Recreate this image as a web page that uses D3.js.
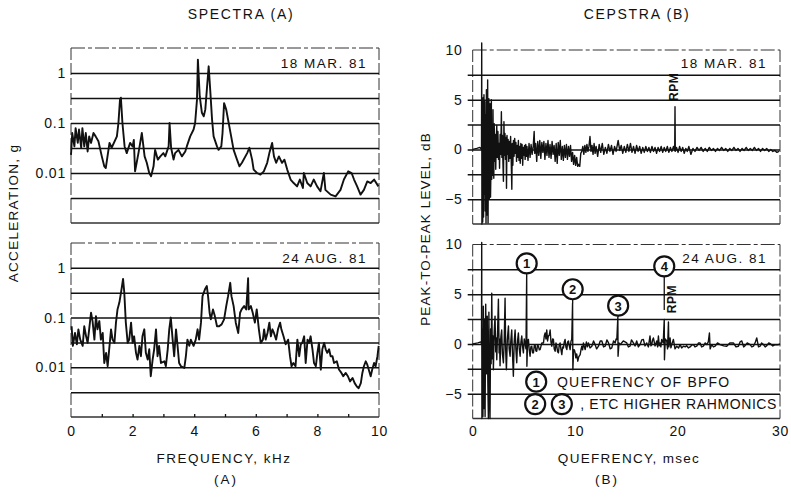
<!DOCTYPE html>
<html>
<head>
<meta charset="utf-8">
<script src="https://cdn.jsdelivr.net/npm/d3@7"></script>
<style>
  html, body { margin: 0; padding: 0; background: #fff; }
  svg { display: block; font-family: "Liberation Sans", Arial, sans-serif; }
</style>
</head>
<body>
<svg id="chart" width="791" height="498"></svg>
<script>
// ---- Spectra: [frequency kHz, acceleration g] ----
const specMar = [
  [0,0.023],[0.04,0.063],[0.11,0.034],[0.15,0.079],[0.22,0.040],[0.26,0.074],[0.33,0.032],[0.37,0.079],
  [0.43,0.034],[0.48,0.063],[0.54,0.027],[0.59,0.054],[0.65,0.040],[0.73,0.063],[0.80,0.054],[0.89,0.043],
  [1.0,0.0215],[1.08,0.0136],[1.13,0.0126],[1.25,0.040],[1.32,0.032],[1.49,0.054],[1.54,0.1],[1.59,0.29],
  [1.62,0.32],[1.67,0.1],[1.74,0.034],[1.81,0.025],[1.92,0.040],[2.0,0.034],[2.04,0.046],[2.08,0.0108],
  [2.19,0.025],[2.30,0.063],[2.39,0.0215],[2.46,0.016],[2.54,0.01],[2.60,0.0086],[2.68,0.0136],[2.73,0.029],
  [2.82,0.0185],[2.90,0.0215],[3.0,0.025],[3.06,0.0215],[3.17,0.034],[3.20,0.1],[3.25,0.032],[3.33,0.0185],
  [3.38,0.025],[3.49,0.029],[3.60,0.0215],[3.71,0.027],[3.76,0.034],[3.87,0.054],[3.98,0.074],[4.03,0.1],
  [4.09,0.29],[4.12,1.85],[4.18,0.34],[4.25,0.16],[4.31,0.136],[4.36,0.185],[4.41,0.46],[4.47,1.36],
  [4.52,0.46],[4.58,0.117],[4.63,0.054],[4.74,0.034],[4.79,0.029],[4.88,0.034],[4.92,0.063],[4.97,0.25],
  [5.04,0.185],[5.12,0.1],[5.20,0.054],[5.28,0.029],[5.39,0.0185],[5.47,0.0136],[5.55,0.016],[5.72,0.025],
  [5.79,0.032],[5.88,0.0185],[5.93,0.0117],[6.04,0.01],[6.15,0.0093],[6.26,0.0108],[6.37,0.016],[6.44,0.025],
  [6.53,0.040],[6.59,0.0215],[6.66,0.016],[6.75,0.0215],[6.85,0.016],[6.93,0.0185],[7.02,0.0117],[7.13,0.0074],
  [7.23,0.0063],[7.34,0.0054],[7.43,0.0074],[7.53,0.005],[7.56,0.01],[7.67,0.0063],[7.78,0.0054],[7.88,0.0074],
  [7.99,0.0054],[8.10,0.0043],[8.21,0.01],[8.26,0.0046],[8.43,0.0037],[8.59,0.0034],[8.75,0.0046],[8.86,0.0074],
  [9.0,0.0108],[9.11,0.01],[9.19,0.0074],[9.29,0.0054],[9.40,0.0037],[9.51,0.0046],[9.62,0.0068],[9.73,0.0063],
  [9.84,0.0074],[9.98,0.0054]
];
const specAug = [
  [0.02,0.067],[0.06,0.027],[0.13,0.049],[0.19,0.029],[0.24,0.058],[0.30,0.036],[0.38,0.027],[0.43,0.067],
  [0.49,0.042],[0.54,0.031],[0.59,0.058],[0.65,0.125],[0.70,0.085],[0.76,0.036],[0.81,0.107],[0.86,0.058],
  [0.92,0.085],[0.97,0.036],[1.03,0.049],[1.08,0.0122],[1.14,0.0195],[1.19,0.0105],[1.24,0.023],[1.30,0.058],
  [1.35,0.036],[1.41,0.031],[1.46,0.079],[1.51,0.146],[1.57,0.20],[1.64,0.37],[1.69,0.6],[1.73,0.32],
  [1.78,0.079],[1.84,0.031],[1.89,0.036],[1.95,0.079],[2.0,0.031],[2.05,0.042],[2.11,0.0195],[2.16,0.0143],
  [2.22,0.027],[2.27,0.0167],[2.32,0.042],[2.38,0.058],[2.43,0.0195],[2.49,0.0143],[2.54,0.023],[2.59,0.0066],
  [2.65,0.0143],[2.70,0.023],[2.76,0.058],[2.81,0.0167],[2.86,0.027],[2.92,0.0122],[3.03,0.0132],[3.08,0.0105],
  [3.14,0.023],[3.19,0.058],[3.24,0.1],[3.30,0.036],[3.35,0.0167],[3.41,0.058],[3.46,0.027],[3.51,0.0122],
  [3.57,0.0105],[3.68,0.0097],[3.73,0.0167],[3.78,0.036],[3.84,0.027],[3.89,0.036],[3.98,0.027],[4.05,0.036],
  [4.11,0.058],[4.16,0.036],[4.22,0.079],[4.27,0.27],[4.35,0.37],[4.41,0.43],[4.45,0.27],[4.50,0.125],
  [4.54,0.092],[4.61,0.146],[4.67,0.107],[4.74,0.067],[4.81,0.067],[4.89,0.073],[4.97,0.092],[5.04,0.17],
  [5.10,0.27],[5.17,0.50],[5.21,0.27],[5.28,0.17],[5.35,0.079],[5.43,0.049],[5.49,0.125],[5.54,0.146],
  [5.62,0.17],[5.69,0.146],[5.73,0.37],[5.75,0.62],[5.77,0.146],[5.84,0.17],[5.90,0.125],[5.97,0.079],
  [6.03,0.146],[6.10,0.058],[6.16,0.031],[6.23,0.036],[6.27,0.058],[6.32,0.036],[6.38,0.049],[6.44,0.079],
  [6.49,0.042],[6.54,0.058],[6.59,0.049],[6.66,0.036],[6.72,0.058],[6.79,0.079],[6.83,0.058],[6.90,0.042],
  [6.97,0.029],[7.05,0.036],[7.11,0.0167],[7.16,0.0105],[7.22,0.0122],[7.29,0.0105],[7.35,0.036],[7.41,0.0167],
  [7.46,0.029],[7.51,0.031],[7.57,0.042],[7.62,0.0122],[7.68,0.036],[7.73,0.031],[7.78,0.042],[7.84,0.023],
  [7.89,0.0122],[7.95,0.0105],[8.0,0.0195],[8.05,0.031],[8.11,0.009],[8.16,0.023],[8.22,0.031],[8.27,0.023],
  [8.32,0.0195],[8.38,0.023],[8.43,0.0167],[8.49,0.0167],[8.54,0.0122],[8.63,0.0132],[8.70,0.009],[8.78,0.0077],
  [8.84,0.0066],[8.92,0.0077],[8.99,0.0066],[9.06,0.0052],[9.14,0.0061],[9.21,0.0048],[9.28,0.0041],[9.34,0.0038],
  [9.41,0.0048],[9.46,0.0077],[9.51,0.0105],[9.57,0.0132],[9.62,0.0113],[9.68,0.0084],[9.73,0.0066],[9.78,0.0090],
  [9.84,0.0122],[9.89,0.0105],[9.95,0.0167],[9.99,0.027]
];

// ---- Cepstra: [quefrency msec, peak-to-peak level dB] ----
const cepMar = [
  [0,0],[0.4,0.1],[0.7,0.2],[0.86,0],[0.88,10.7],[0.9,-7.5],[0.94,2.5],[0.98,-7.3],[1.02,5.2],[1.06,-6.8],
  [1.10,5.5],[1.14,-4.5],[1.18,4.8],[1.22,-6.2],[1.26,3.5],[1.30,-7.4],[1.34,6.0],[1.38,-3.5],[1.42,-6.6],
  [1.46,7.0],[1.50,-7.4],[1.54,2.0],[1.58,5.1],[1.62,-5.0],[1.66,1.0],[1.70,4.6],[1.74,-4.8],[1.78,-2.0],
  [1.82,5.0],[1.86,-3.0],[1.90,2.5],[1.94,-2.6],[1.98,4.0],[2.02,-1.5],[2.06,-2.9],[2.10,2.6],[2.15,-1.2],
  [2.20,1.5],[2.25,-2.0],[2.30,1.0],[2.35,2.4],[2.40,-0.8],[2.46,1.8],[2.52,-1.0],[2.58,0.6],[2.62,-1.9],
  [2.68,1.5],[2.74,-0.5],[2.80,3.8],[2.85,-0.8],[2.90,1.4],[2.95,-1.2],[3.00,-3.2],[3.05,2.8],[3.10,-0.6],
  [3.15,1.6],[3.20,-1.0],[3.26,1.2],[3.30,-3.9],[3.35,1.4],[3.40,-0.5],[3.46,1.0],[3.52,-1.2],[3.58,0.8],
  [3.64,-0.9],[3.70,1.3],[3.76,-1.0],[3.82,-4.0],[3.86,0.6],[3.92,-1.6],[3.98,0.9],[4.04,-0.7],[4.10,1.1],
  [4.16,-0.4],[4.22,0.7],[4.28,-1.2],[4.34,0.4],[4.40,-0.8],[4.46,0.9],[4.52,-1.1],[4.58,0.3],[4.64,-1.4],
  [4.70,0.6],[4.76,-0.9],[4.82,0.5],[4.88,-1.6],[4.94,0.2],[5.00,-0.6],[5.06,0.4],[5.12,-1.0],[5.18,0.5],
  [5.24,-0.7],[5.30,0.3],[5.40,-1.1],[5.50,0.6],[5.60,-0.8],[5.70,0.5],[5.80,-0.5],[5.90,0.2],[6.00,1.8],
  [6.06,-0.4],[6.15,0.6],[6.25,-1.2],[6.35,0.8],[6.45,-0.6],[6.55,0.9],[6.65,-0.9],[6.75,0.7],[6.85,-0.3],
  [6.95,0.8],[7.05,-1.0],[7.15,0.6],[7.25,-0.6],[7.35,0.9],[7.45,-0.8],[7.55,0.5],[7.65,-0.9],[7.75,0.8],
  [7.85,-0.5],[7.95,0.4],[8.05,-1.2],[8.15,0.6],[8.25,-1.4],[8.35,0.7],[8.45,-0.6],[8.55,0.9],[8.65,-1.0],
  [8.75,0.3],[8.85,-1.1],[8.95,0.4],[9.05,-0.8],[9.15,0.5],[9.25,-1.0],[9.35,0.3],[9.45,-0.7],[9.55,0.4],
  [9.65,-1.2],[9.75,-0.3],[9.85,-1.5],[9.95,-0.6],[10.05,-1.6],[10.15,-0.8],[10.25,-1.7],[10.35,-1.5],
  [10.45,-1.7],[10.55,-0.4],[10.65,-0.2],[10.75,0.3],[10.85,-0.5],[10.95,0.4],[11.05,-0.3],[11.15,0.5],
  [11.25,-0.2],[11.35,0.3],[11.45,1.3],[11.55,-0.2],[11.65,0.4],[11.75,-0.5],[11.85,0.6],[11.95,-0.4],
  [12.05,0.3],[12.2,-0.7],[12.35,0.5],[12.5,-0.3],[12.65,0.6],[12.8,-0.5],[12.95,0.2],[13.1,-0.4],[13.25,0.5],
  [13.4,-0.2],[13.55,0.4],[13.7,-0.5],[13.85,0.3],[14.0,-0.2],[14.2,0.9],[14.35,-0.1],[14.5,0.4],[14.65,-0.4],
  [14.8,0.3],[14.95,-0.3],[15.1,0.5],[15.25,-0.2],[15.4,0.6],[15.55,-0.3],[15.7,0.3],[15.85,-0.4],[16.0,0.4],
  [16.15,-0.2],[16.3,0.3],[16.45,-0.4],[16.6,0.2],[16.75,-0.3],[16.9,0.3],[17.05,-0.2],[17.2,0.2],[17.35,-0.3],
  [17.5,0.3],[17.65,-0.2],[17.8,0.2],[17.95,-0.4],[18.1,0.2],[18.25,-0.2],[18.4,0.3],[18.55,-0.3],[18.7,0.2],
  [18.85,-0.2],[19.0,0.3],[19.15,-0.3],[19.3,0.2],[19.45,-0.2],[19.6,0.3],[19.72,-0.1],[19.75,4.3],[19.78,-0.2],
  [19.9,0.2],[20.05,-0.3],[20.2,0.3],[20.35,-0.2],[20.5,0.2],[20.65,-0.4],[20.8,0.1],[20.95,-0.2],[21.1,0.3],
  [21.3,-0.5],[21.5,0.1],[21.7,-0.2],[21.9,0.2],[22.1,-0.1],[22.3,0.2],[22.5,-0.2],[22.7,0.1],[22.9,-0.2],
  [23.1,0.2],[23.3,-0.1],[23.5,0.1],[23.7,-0.2],[23.9,0.1],[24.1,-0.1],[24.3,0.2],[24.5,-0.1],[24.7,0.1],
  [24.9,-0.2],[25.1,0.1],[25.3,-0.1],[25.5,0.2],[25.7,-0.1],[25.9,0.1],[26.1,-0.2],[26.3,0.1],[26.5,-0.1],
  [26.7,0.2],[26.9,-0.1],[27.1,0.1],[27.3,-0.1],[27.5,0.2],[27.7,-0.1],[27.9,0.1],[28.1,-0.2],[28.3,0.1],
  [28.5,-0.1],[28.7,0.1],[28.9,-0.2],[29.1,0.0],[29.3,-0.2],[29.5,-0.1],[29.7,-0.3],[29.9,-0.2]
];
const cepAug = [
  [0,0],[0.5,0.1],[0.8,0.2],[0.86,0],[0.88,10.2],[0.9,-7.5],[0.95,1.5],[1.0,-7.3],[1.04,3.8],[1.1,-6.5],
  [1.15,2.5],[1.21,-7.3],[1.27,4.0],[1.35,-3.0],[1.42,2.8],[1.48,-4.0],[1.53,-7.5],[1.58,3.2],[1.64,-5.0],
  [1.69,-7.5],[1.75,1.5],[1.80,-2.0],[1.86,5.1],[1.92,-1.5],[1.97,0.8],[2.02,-2.6],[2.10,1.2],[2.18,2.8],
  [2.25,-0.8],[2.30,0.6],[2.35,-1.6],[2.42,0.9],[2.51,4.5],[2.58,-0.9],[2.62,0.5],[2.67,-2.2],[2.75,0.7],
  [2.83,1.4],[2.90,-1.0],[3.0,-1.9],[3.08,0.5],[3.16,4.6],[3.22,-0.6],[3.29,-2.6],[3.38,0.4],[3.49,1.8],
  [3.56,-0.5],[3.65,-1.24],[3.72,0.3],[3.81,1.4],[3.88,-0.8],[3.97,-3.25],[4.05,0.2],[4.14,1.4],[4.22,-0.6],
  [4.30,-1.9],[4.38,0.3],[4.46,1.1],[4.54,-0.4],[4.63,-1.24],[4.71,0.2],[4.79,0.8],[4.87,-0.3],[4.95,-0.9],
  [5.03,0.5],[5.11,0.1],[5.20,-0.5],[5.27,6.8],[5.29,-2.25],[5.36,0.3],[5.44,0.45],[5.52,-0.6],[5.60,-1.24],
  [5.68,-0.3],[5.77,-0.23],[5.85,-0.9],[5.93,-0.9],[6.01,-0.2],[6.09,-0.07],[6.17,-0.7],[6.25,-0.74],
  [6.33,-0.1],[6.42,-0.23],[6.50,-0.6],[6.58,-0.57],[6.75,0.1],[6.91,0.1],[6.99,0.8],[7.07,1.1],[7.15,0.5],
  [7.23,1.4],[7.31,0.3],[7.39,0.8],[7.48,0.9],[7.56,1.4],[7.64,0.2],[7.72,-0.23],[7.80,0.5],[7.88,0.45],
  [7.96,-0.5],[8.05,-0.74],[8.13,0.1],[8.21,-0.23],[8.29,-0.8],[8.37,-0.9],[8.45,-0.1],[8.53,0.1],[8.62,-0.6],
  [8.70,-1.07],[8.78,-0.3],[8.86,-0.4],[8.94,0.2],[9.02,0.45],[9.10,-0.3],[9.19,-0.57],[9.27,0.2],[9.35,0.3],
  [9.43,-0.2],[9.51,-0.57],[9.60,0.3],[9.67,0.45],[9.75,4.1],[9.78,-2.6],[9.85,-0.57],[9.93,-0.6],[10.0,-0.9],
  [10.07,-1.4],[10.15,-1.0],[10.26,-1.74],[10.35,-1.3],[10.49,-1.07],[10.57,-0.6],[10.65,-0.23],[10.73,-0.6],
  [10.81,0.1],[10.90,-0.3],[10.98,-0.57],[11.1,0.2],[11.2,-0.3],[11.30,0.1],[11.45,-0.4],[11.63,-0.23],
  [11.8,0.3],[11.95,-0.07],[12.1,-0.5],[12.28,-0.23],[12.45,0.3],[12.61,0.3],[12.77,-0.3],[12.93,-0.23],
  [13.1,0.4],[13.26,0.1],[13.42,-0.5],[13.58,-0.4],[13.75,0.3],[13.91,0.1],[14.0,0.5],[14.07,0.45],[14.17,2.7],
  [14.19,-1.24],[14.28,0.1],[14.40,-0.07],[14.7,0.3],[15.04,0.1],[15.2,-0.3],[15.36,-0.23],[15.5,0.4],
  [15.69,0.1],[15.85,-0.2],[16.01,0.3],[16.17,-0.3],[16.34,-0.07],[16.5,0.4],[16.66,0.45],[16.82,-0.2],
  [16.99,0.1],[17.15,-0.3],[17.31,0.8],[17.40,-0.2],[17.48,-0.07],[17.56,0.4],[17.64,0.6],[17.8,-0.2],
  [17.97,0.3],[18.05,-0.3],[18.13,0.8],[18.21,-0.2],[18.29,0.1],[18.37,-0.3],[18.45,0.45],[18.6,0.1],
  [18.70,2.45],[18.72,-1.6],[18.8,0.5],[18.94,0.3],[19.02,-0.5],[19.11,2.2],[19.15,-0.3],[19.27,0.6],
  [19.35,-0.4],[19.43,-0.07],[19.59,0.45],[19.75,-0.5],[19.92,-0.23],[20.1,-0.4],[20.25,-0.07],[20.4,-0.4],
  [20.57,-0.23],[20.75,-0.3],[20.89,-0.17],[21.05,-0.4],[21.22,-0.3],[21.4,-0.1],[21.55,-0.07],[21.7,-0.3],
  [21.87,-0.23],[22.05,0.1],[22.20,0.1],[22.35,-0.3],[22.52,-0.23],[22.7,0.1],[22.85,-0.07],[23.0,0.2],
  [23.11,1.1],[23.18,-0.5],[23.33,-0.07],[23.5,-0.3],[23.66,-0.23],[23.9,0.1],[24.15,-0.07],[24.5,-0.2],
  [24.80,-0.23],[25.1,0.1],[25.45,0.1],[25.7,-0.3],[25.94,-0.23],[26.1,0.2],[26.27,0.3],[26.45,-0.3],
  [26.59,-0.17],[26.8,0.1],[27.08,-0.07],[27.25,-0.3],[27.41,-0.23],[27.6,0.2],[27.73,0.6],[27.9,-0.3],
  [28.06,-0.23],[28.2,0.1],[28.39,-0.07],[28.55,-0.3],[28.71,-0.17],[28.9,0.1],[29.04,0.03],[29.3,-0.2],
  [29.53,-0.07],[29.8,-0.1],[30.0,0.0]
];

// ---- Axis ticks, gridlines and labels ----
const freqTicks = [0, 2, 4, 6, 8, 10];
const freqMinorTicks = [1, 2, 3, 4, 5, 6, 7, 8, 9];
const quefTicks = [0, 10, 20, 30];
const accelTicks = [1, 0.1, 0.01];
const accelGrid = [1, 0.316, 0.1, 0.0316, 0.01, 0.00316];
const levelTicks = [10, 5, 0, -5];
const levelGrid = [7.5, 5, 2.5, 0, -2.5, -5];
const dateLabels = ["18 MAR. 81", "24 AUG. 81"];

// Rahmonic markers: number, quefrency, circle level, level where the leader ends
const rahmonics = [
  { n: "1", q: 5.27, c: 8.1, end: 6.8 },
  { n: "2", q: 9.76, c: 5.5, end: 4.1 },
  { n: "3", q: 14.2, c: 3.85, end: 2.7 },
  { n: "4", q: 18.7, c: 7.8, end: 3.4 }
];

const ink = "#111";
const svg = d3.select("#chart");

// scales
const xFreq = d3.scaleLinear().domain([0, 10]).range([71, 379]);
const xQue = d3.scaleLinear().domain([0, 30]).range([472.7, 780]);
const accDomain = [0.001, Math.sqrt(10)];
const yAccTop = d3.scaleLog().domain(accDomain).range([223, 48]);
const yAccBot = d3.scaleLog().domain(accDomain).range([417, 243]);
const yLevTop = d3.scaleLinear().domain([-7.5, 10]).range([224, 50]);
const yLevBot = d3.scaleLinear().domain([-7.5, 10]).range([418.5, 244.5]);

function styleAxisText(g, size) {
  g.selectAll("text")
    .attr("font-family", "'Liberation Sans', Arial, sans-serif")
    .attr("font-size", size)
    .attr("letter-spacing", 0.8)
    .attr("fill", ink);
  g.attr("font-family", null).attr("font-size", null);
}

function panel(x, y, grid, tickVals, tickFmt, gridOverhang, labelPad) {
  const [x0, x1] = x.range();
  const [yb, yt] = y.range();

  // frame: dashed top and sides, solid bottom
  const frame = svg.append("g").attr("fill", "none").attr("stroke", "#333").attr("stroke-width", 1);
  frame.append("line").attr("x1", x0).attr("x2", x1).attr("y1", yt).attr("y2", yt)
    .attr("stroke-dasharray", "14,3,4,3");
  frame.append("line").attr("x1", x0).attr("x2", x0).attr("y1", yt).attr("y2", yb)
    .attr("stroke-dasharray", "12,3");
  frame.append("line").attr("x1", x1).attr("x2", x1).attr("y1", yt).attr("y2", yb)
    .attr("stroke-dasharray", "12,3");
  frame.append("line").attr("x1", x0).attr("x2", x1).attr("y1", yb).attr("y2", yb)
    .attr("stroke-width", 1.3);

  // horizontal gridlines
  const gGrid = svg.append("g")
    .attr("transform", `translate(${x0 - gridOverhang},0)`)
    .call(d3.axisLeft(y).tickValues(grid).tickSize(-(x1 - x0 + gridOverhang)).tickFormat(""));
  gGrid.select(".domain").remove();
  gGrid.selectAll(".tick line").attr("stroke", ink).attr("stroke-width", 1.5);

  // tick labels
  const gLab = svg.append("g")
    .attr("transform", `translate(${x0},0)`)
    .call(d3.axisLeft(y).tickValues(tickVals).tickSize(0).tickPadding(labelPad).tickFormat(tickFmt));
  gLab.select(".domain").remove();
  styleAxisText(gLab, 14);
}

function curve(data, x, y, width) {
  svg.append("path")
    .datum(data)
    .attr("fill", "none")
    .attr("stroke", ink)
    .attr("stroke-width", width)
    .attr("stroke-linejoin", "round")
    .attr("d", d3.line().x(d => x(d[0])).y(d => y(d[1])));
}

function text(x, y, str, opts = {}) {
  const t = svg.append("text")
    .attr("x", x).attr("y", y)
    .attr("fill", ink)
    .attr("font-size", opts.size || 13)
    .attr("letter-spacing", opts.ls != null ? opts.ls : 1)
    .attr("text-anchor", opts.anchor || "middle")
    .attr("dominant-baseline", "central")
    .attr("font-weight", opts.weight || "normal")
    .text(str);
  if (opts.rotate) t.attr("transform", `rotate(${opts.rotate},${x},${y})`);
  return t;
}

// ---- Spectra panels ----
const accFmt = d => String(d);
panel(xFreq, yAccTop, accelGrid, accelTicks, accFmt, 0, 5);
panel(xFreq, yAccBot, accelGrid, accelTicks, accFmt, 0, 5);
curve(specMar, xFreq, yAccTop, 1.9);
curve(specAug, xFreq, yAccBot, 1.9);

// minor ticks along the bottom of the lower spectrum
const gMinor = svg.append("g")
  .attr("transform", `translate(0,${yAccBot.range()[0]})`)
  .call(d3.axisBottom(xFreq).tickValues(freqMinorTicks).tickSize(-3).tickFormat(""));
gMinor.select(".domain").remove();
gMinor.selectAll(".tick line").attr("stroke", ink).attr("stroke-width", 1.3);

const gFx = svg.append("g")
  .attr("transform", `translate(0,${yAccBot.range()[0]})`)
  .call(d3.axisBottom(xFreq).tickValues(freqTicks).tickSize(0).tickPadding(9).tickFormat(d3.format("d")));
gFx.select(".domain").remove();
styleAxisText(gFx, 14);

// ---- Cepstra panels ----
const levFmt = d3.format("d");
panel(xQue, yLevTop, levelGrid, levelTicks, levFmt, 5, 10);
panel(xQue, yLevBot, levelGrid, levelTicks, levFmt, 5, 10);
curve(cepMar, xQue, yLevTop, 1.4);
curve(cepAug, xQue, yLevBot, 1.4);

const gQx = svg.append("g")
  .attr("transform", `translate(0,${yLevBot.range()[0]})`)
  .call(d3.axisBottom(xQue).tickValues(quefTicks).tickSize(0).tickPadding(8).tickFormat(d3.format("d")));
gQx.select(".domain").remove();
styleAxisText(gQx, 14);

// ---- Dates ----
text(367, 63, dateLabels[0], { anchor: "end", ls: 1.5, size: 13.5 });
text(367, 258, dateLabels[1], { anchor: "end", ls: 1.5, size: 13.5 });
text(767, 63, dateLabels[0], { anchor: "end", ls: 1.5, size: 13.5 });
text(767, 258, dateLabels[1], { anchor: "end", ls: 1.5, size: 13.5 });

// ---- RPM label on the upper cepstrum ----
text(xQue(19.75) - 1, yLevTop(6.3), "RPM", { size: 12, ls: 0.5, rotate: -90, weight: "bold" });

// ---- Rahmonic circles and leaders on the lower cepstrum ----
const r = 10;
rahmonics.forEach(m => {
  const cx = xQue(m.q), cy = yLevBot(m.c);
  svg.append("line")
    .attr("x1", cx).attr("x2", cx)
    .attr("y1", cy + r).attr("y2", yLevBot(m.end))
    .attr("stroke", ink).attr("stroke-width", 1.3);
  svg.append("circle").attr("cx", cx).attr("cy", cy).attr("r", r)
    .attr("fill", "#fff").attr("stroke", ink).attr("stroke-width", 2.2);
  text(cx, cy + 0.5, m.n, { size: 13, ls: 0, weight: "bold" });
});
text(xQue(18.7) + 8, yLevBot(4.5), "RPM", { size: 12, ls: 0.5, rotate: -90, weight: "bold" });

// legend for the circled numbers
function legendCircle(q, lev, n) {
  const cx = xQue(q), cy = yLevBot(lev);
  svg.append("circle").attr("cx", cx).attr("cy", cy).attr("r", r)
    .attr("fill", "#fff").attr("stroke", ink).attr("stroke-width", 2.2);
  text(cx, cy + 0.5, n, { size: 13, ls: 0, weight: "bold" });
}
legendCircle(6.2, -3.8, "1");
legendCircle(6.1, -6.05, "2");
legendCircle(8.7, -6.05, "3");
text(xQue(8.23), yLevBot(-3.8), "QUEFRENCY OF BPFO", { anchor: "start", ls: 1.2, size: 14 });
text(xQue(10.5), yLevBot(-6.05), ", ETC HIGHER RAHMONICS", { anchor: "start", ls: 0.6, size: 14 });

// ---- Titles and axis names ----
text(241, 14, "SPECTRA (A)", { size: 14, ls: 1.7 });
text(637, 14, "CEPSTRA (B)", { size: 14, ls: 1.7 });
text(224, 458, "FREQUENCY, kHz", { ls: 1.5, size: 13.5 });
text(629, 458, "QUEFRENCY, msec", { ls: 1.3, size: 13.5 });
text(226, 479, "(A)", { ls: 2, size: 13.5 });
text(607, 479, "(B)", { ls: 2, size: 13.5 });
text(13, 213, "ACCELERATION, g", { ls: 1.3, rotate: -90, size: 13.5 });
text(425, 229, "PEAK-TO-PEAK LEVEL, dB", { ls: 1.1, rotate: -90, size: 13.5 });
</script>
</body>
</html>
